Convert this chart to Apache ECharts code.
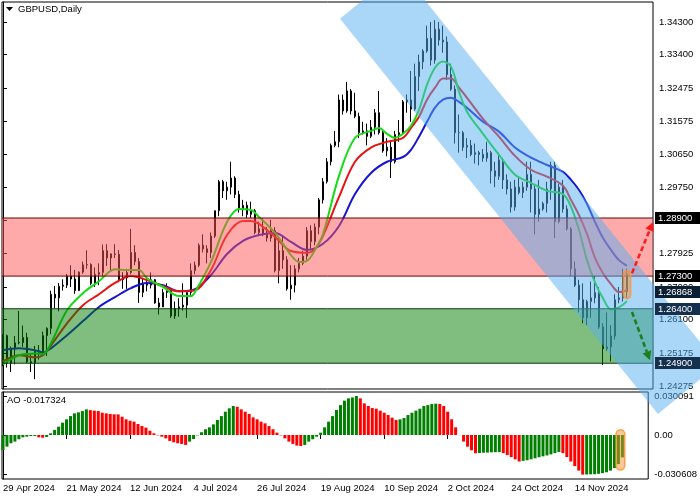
<!DOCTYPE html>
<html><head><meta charset="utf-8">
<script src="https://cdn.jsdelivr.net/npm/echarts@6/dist/echarts.min.js"></script>
<style>html,body{margin:0;padding:0;background:#fff}#c{width:700px;height:500px}</style>
</head><body><div id="c"></div>
<script>
// ---------- data ----------
const xTickIndex = [0,16,32,48,64,80,96,112,128,144];
const xTickLabels = ['29 Apr 2024','21 May 2024','12 Jun 2024','4 Jul 2024','26 Jul 2024','19 Aug 2024','10 Sep 2024','2 Oct 2024','24 Oct 2024','14 Nov 2024'];
const priceTicks = [1.343,1.334,1.32475,1.31575,1.3065,1.2975,1.28825,1.27925,1.27,1.261,1.25175,1.24275];
const aoTicks = [0.030091,0,-0.030608];

const opens = [1.2494,1.2566,1.2490,1.2530,1.2546,1.2547,1.2561,1.2494,1.2491,1.2523,
1.2524,1.2566,1.2586,1.2680,1.2670,1.2702,1.2705,1.2730,1.2722,1.2690,
1.2741,1.2761,1.2762,1.2710,1.2735,1.2740,1.2800,1.2780,1.2791,1.2790,
1.2720,1.2725,1.2740,1.2795,1.2770,1.2685,1.2710,1.2705,1.2720,1.2656,
1.2645,1.2685,1.2690,1.2620,1.2640,1.2645,1.2650,1.2685,1.2745,1.2760,
1.2815,1.2805,1.2795,1.2840,1.2910,1.2990,1.2965,1.2975,1.3000,1.2955,
1.2915,1.2925,1.2900,1.2910,1.2850,1.2860,1.2845,1.2835,1.2855,1.2745,
1.2800,1.2775,1.2695,1.2705,1.2750,1.2765,1.2785,1.2855,1.2825,1.2865,
1.2940,1.2990,1.3045,1.3090,1.3100,1.3215,1.3185,1.3240,1.3185,1.3170,
1.3125,1.3130,1.3115,1.3140,1.3180,1.3125,1.3075,1.3085,1.3045,1.3120,
1.3125,1.3210,1.3215,1.3190,1.3280,1.3320,1.3350,1.3385,1.3325,1.3410,
1.3380,1.3375,1.3285,1.3245,1.3125,1.3125,1.3085,1.3090,1.3065,1.3070,
1.3065,1.3055,1.3070,1.3020,1.3005,1.3050,1.2995,1.2970,1.2920,1.2975,
1.2960,1.2975,1.3010,1.2970,1.2900,1.2915,1.2930,1.2970,1.3035,1.2880,
1.2975,1.2915,1.2860,1.2750,1.2705,1.2665,1.2615,1.2660,1.2670,1.2685,
1.2590,1.2530,1.2535,1.2565,1.2665,1.2670,1.2735];
const highs = [1.2570,1.2569,1.2536,1.2565,1.2634,1.2594,1.2574,1.2518,1.2538,1.2540,
1.2577,1.2589,1.2690,1.2703,1.2711,1.2721,1.2736,1.2760,1.2747,1.2743,
1.2770,1.2801,1.2765,1.2754,1.2765,1.2817,1.2818,1.2793,1.2818,1.2802,
1.2741,1.2750,1.2860,1.2815,1.2780,1.2722,1.2728,1.2740,1.2722,1.2670,
1.2695,1.2710,1.2695,1.2660,1.2669,1.2710,1.2690,1.2765,1.2770,1.2820,
1.2845,1.2815,1.2850,1.2910,1.2995,1.2995,1.2990,1.3045,1.3005,1.2965,
1.2940,1.2935,1.2935,1.2915,1.2880,1.2890,1.2865,1.2885,1.2865,1.2840,
1.2840,1.2785,1.2760,1.2760,1.2780,1.2800,1.2865,1.2870,1.2875,1.2945,
1.3000,1.3055,1.3095,1.3130,1.3230,1.3230,1.3265,1.3245,1.3235,1.3180,
1.3155,1.3150,1.3160,1.3190,1.3240,1.3130,1.3110,1.3100,1.3130,1.3160,
1.3215,1.3230,1.3295,1.3315,1.3340,1.3355,1.3420,1.3430,1.3435,1.3430,
1.3420,1.3390,1.3315,1.3255,1.3175,1.3130,1.3110,1.3105,1.3095,1.3075,
1.3080,1.3100,1.3075,1.3045,1.3070,1.3055,1.3010,1.2990,1.2995,1.3005,
1.2990,1.3045,1.3045,1.2980,1.2995,1.2935,1.2990,1.3045,1.3045,1.2985,
1.2995,1.2925,1.2865,1.2770,1.2720,1.2710,1.2665,1.2715,1.2730,1.2700,
1.2600,1.2630,1.2595,1.2680,1.2700,1.2750,1.2750];
const lows = [1.2482,1.2478,1.2466,1.2487,1.2542,1.2535,1.2490,1.2466,1.2446,1.2500,
1.2512,1.2510,1.2570,1.2642,1.2633,1.2690,1.2697,1.2700,1.2681,1.2689,
1.2736,1.2750,1.2705,1.2700,1.2705,1.2730,1.2758,1.2746,1.2780,1.2713,
1.2695,1.2695,1.2735,1.2760,1.2656,1.2672,1.2688,1.2696,1.2654,1.2624,
1.2645,1.2670,1.2615,1.2612,1.2618,1.2635,1.2615,1.2675,1.2735,1.2755,
1.2795,1.2765,1.2780,1.2835,1.2895,1.2945,1.2940,1.2955,1.2945,1.2905,
1.2895,1.2890,1.2890,1.2845,1.2840,1.2840,1.2825,1.2825,1.2740,1.2710,
1.2750,1.2690,1.2665,1.2685,1.2740,1.2760,1.2775,1.2805,1.2815,1.2845,
1.2930,1.2985,1.3035,1.3085,1.3085,1.3175,1.3180,1.3175,1.3165,1.3110,
1.3120,1.3090,1.3110,1.3120,1.3120,1.3070,1.3060,1.3000,1.3040,1.3100,
1.3120,1.3180,1.3155,1.3185,1.3240,1.3300,1.3345,1.3310,1.3315,1.3365,
1.3345,1.3270,1.3240,1.3095,1.3070,1.3075,1.3055,1.3060,1.3040,1.3035,
1.3045,1.3045,1.2985,1.2975,1.2995,1.2970,1.2955,1.2905,1.2910,1.2955,
1.2945,1.2965,1.2905,1.2845,1.2880,1.2910,1.2905,1.2940,1.2835,1.2875,
1.2905,1.2855,1.2730,1.2700,1.2630,1.2600,1.2595,1.2615,1.2655,1.2585,
1.2485,1.2525,1.2495,1.2555,1.2655,1.2660,1.2670];
const closes = [1.2566,1.2490,1.2530,1.2546,1.2547,1.2561,1.2494,1.2491,1.2523,1.2524,
1.2566,1.2586,1.2680,1.2670,1.2702,1.2705,1.2730,1.2722,1.2690,1.2741,
1.2761,1.2762,1.2710,1.2735,1.2740,1.2800,1.2780,1.2791,1.2790,1.2720,
1.2725,1.2740,1.2795,1.2770,1.2685,1.2710,1.2705,1.2720,1.2656,1.2645,
1.2685,1.2690,1.2620,1.2640,1.2645,1.2650,1.2685,1.2745,1.2760,1.2815,
1.2805,1.2795,1.2840,1.2910,1.2990,1.2965,1.2975,1.3000,1.2955,1.2915,
1.2925,1.2900,1.2910,1.2850,1.2860,1.2845,1.2835,1.2855,1.2745,1.2800,
1.2775,1.2695,1.2705,1.2750,1.2765,1.2785,1.2855,1.2825,1.2865,1.2940,
1.2990,1.3045,1.3090,1.3100,1.3215,1.3185,1.3240,1.3185,1.3170,1.3125,
1.3130,1.3115,1.3140,1.3180,1.3125,1.3075,1.3085,1.3045,1.3120,1.3125,
1.3210,1.3215,1.3190,1.3280,1.3320,1.3350,1.3385,1.3325,1.3410,1.3380,
1.3375,1.3285,1.3245,1.3125,1.3125,1.3085,1.3090,1.3065,1.3070,1.3065,
1.3055,1.3070,1.3020,1.3005,1.3050,1.2995,1.2970,1.2920,1.2975,1.2960,
1.2975,1.3010,1.2970,1.2900,1.2915,1.2930,1.2970,1.3035,1.2880,1.2975,
1.2915,1.2860,1.2750,1.2705,1.2665,1.2615,1.2660,1.2670,1.2685,1.2590,
1.2530,1.2535,1.2565,1.2665,1.2670,1.2735,1.2687];

const maFast = [[0,1.2487],[4,1.2512],[8,1.2517],[10,1.2515],[12,1.2545],[16,1.2636],[20,1.2683],[24,1.2716],[28,1.2749],[30,1.2747],[32,1.2747],[34,1.2747],[36,1.2724],[40,1.2700],[44,1.2675],[47,1.2675],[48,1.2686],[52,1.2769],[56,1.2879],[59,1.2915],[62,1.2912],[64,1.2893],[68,1.2849],[72,1.2788],[74,1.2769],[76,1.2772],[78,1.2802],[80,1.2846],[84,1.3006],[88,1.3111],[92,1.3130],[94,1.3138],[96,1.3122],[98,1.3111],[100,1.3122],[102,1.3144],[104,1.3188],[106,1.3257],[108,1.3304],[110,1.3321],[112,1.3307],[114,1.3238],[116,1.3183],[120,1.3122],[124,1.3064],[128,1.3009],[132,1.2987],[136,1.2965],[140,1.2956],[142,1.2921],[144,1.2857],[146,1.2774],[148,1.2713],[150,1.2669],[152,1.2639],[154,1.2644],[156,1.2661]];
const maMid = [[0,1.2495],[4,1.2512],[8,1.2506],[10,1.2512],[12,1.2539],[16,1.2600],[20,1.2650],[24,1.2680],[28,1.2711],[32,1.2730],[36,1.2719],[40,1.2702],[44,1.2688],[48,1.2691],[52,1.2747],[56,1.2843],[60,1.2882],[62,1.2882],[64,1.2874],[68,1.2838],[72,1.2799],[76,1.2794],[78,1.2805],[80,1.2841],[84,1.2948],[88,1.3045],[92,1.3084],[96,1.3100],[100,1.3111],[102,1.3138],[104,1.3169],[106,1.3216],[108,1.3249],[110,1.3274],[112,1.3274],[114,1.3249],[116,1.3221],[120,1.3163],[124,1.3114],[128,1.3061],[132,1.3023],[136,1.3004],[140,1.2979],[142,1.2940],[144,1.2898],[146,1.2846],[148,1.2780],[150,1.2738],[152,1.2708],[154,1.2686],[156,1.2691]];
const maSlow = [[0,1.2526],[4,1.2531],[8,1.2526],[10,1.2520],[12,1.2531],[16,1.2567],[20,1.2606],[24,1.2645],[28,1.2672],[32,1.2697],[36,1.2711],[40,1.2705],[44,1.2688],[48,1.2694],[52,1.2733],[56,1.2791],[60,1.2827],[64,1.2843],[68,1.2849],[72,1.2824],[76,1.2802],[80,1.2819],[84,1.2868],[88,1.2956],[92,1.3014],[96,1.3045],[100,1.3058],[102,1.3078],[104,1.3114],[106,1.3155],[108,1.3194],[110,1.3216],[112,1.3221],[114,1.3210],[116,1.3194],[120,1.3155],[124,1.3128],[128,1.3084],[132,1.3056],[136,1.3036],[140,1.3017],[142,1.2995],[144,1.2967],[146,1.2929],[148,1.2879],[150,1.2835],[152,1.2802],[154,1.2774],[156,1.2758]];

const aoValues = [-0.0116,-0.0090,-0.0064,-0.0051,-0.0033,-0.0018,-0.0013,-0.0008,-0.0007,-0.0018,
-0.0021,-0.0015,0.0013,0.0039,0.0064,0.0095,0.0121,0.0146,0.0167,0.0175,
0.0185,0.0198,0.0192,0.0188,0.0185,0.0172,0.0167,0.0162,0.0160,0.0159,
0.0141,0.0121,0.0110,0.0103,0.0085,0.0069,0.0057,0.0033,0.0013,-0.0003,
-0.0013,-0.0026,-0.0046,-0.0057,-0.0064,-0.0069,-0.0077,-0.0051,-0.0031,-0.0003,
0.0021,0.0044,0.0059,0.0082,0.0116,0.0146,0.0180,0.0206,0.0224,0.0218,
0.0198,0.0180,0.0162,0.0136,0.0121,0.0103,0.0090,0.0069,0.0044,0.0018,
-0.0003,-0.0026,-0.0051,-0.0069,-0.0082,-0.0085,-0.0077,-0.0051,-0.0033,-0.0013,
0.0018,0.0059,0.0103,0.0146,0.0193,0.0231,0.0265,0.0283,0.0290,0.030091,
0.0283,0.0244,0.0224,0.0208,0.0203,0.0188,0.0172,0.0154,0.0134,0.0116,
0.0121,0.0131,0.0154,0.0172,0.0188,0.0203,0.0224,0.0231,0.0239,0.0242,
0.0239,0.0224,0.0180,0.0121,0.0059,-0.0001,-0.0051,-0.0090,-0.0118,-0.0141,
-0.0139,-0.0137,-0.0136,-0.0134,-0.0133,-0.0132,-0.0140,-0.0155,-0.0170,-0.0188,
-0.0205,-0.0200,-0.0195,-0.0188,-0.0180,-0.0172,-0.0165,-0.0158,-0.0150,-0.0140,
-0.0131,-0.0140,-0.0170,-0.0205,-0.0240,-0.0275,-0.030608,-0.0305,-0.0304,-0.0303,
-0.0300,-0.0295,-0.0288,-0.0275,-0.0255,-0.0225,-0.017324];

const zones = [[1.289,1.273],[1.264,1.249]];
const channel = [[84.25,1.34386],[99.25,1.3575],[178.75,1.2487],[163.75,1.2350]];
const arrows = [[157.25,1.2738,162.5,1.2879],[157.25,1.2631,161.75,1.2498]];
const priceBoxes = [1.289,1.273,1.26868,1.264,1.249];
const mainHighlight = [[156,1.2745,1.2668]];
const aoHighlight = [[155.5,0.0040,-0.0270]];

// ---------- styles ----------
const FONT = 'Liberation Sans';
const FS = 9.5;
const zoneFill = ['rgba(255,85,85,0.5)','rgba(0,125,0,0.5)'];
const zoneLine = ['#6a0000','#0b3b0b'];
const boxColors = ['#000000','#000000','#0b1f33','#15304d','#15304d'];
const arrowColors = ['#ff1a1a','#1b7d1b'];

const candleData = opens.map((o,i)=>[i,o,closes[i],lows[i],highs[i]]);
const aoData = aoValues.map((v,i)=>[i,v]);

function renderZone(params, api){
  const cs = params.coordSys;
  const y1 = api.coord([0, api.value(1)])[1];
  const y2 = api.coord([0, api.value(2)])[1];
  const k = params.dataIndex;
  return {type:'group', children:[
    {type:'rect', shape:{x:cs.x, y:y1, width:cs.width, height:y2-y1}, style:{fill:zoneFill[k]}},
    {type:'line', shape:{x1:cs.x, y1:y1, x2:cs.x+cs.width, y2:y1}, style:{stroke:zoneLine[k], lineWidth:1}},
    {type:'line', shape:{x1:cs.x, y1:y2, x2:cs.x+cs.width, y2:y2}, style:{stroke:zoneLine[k], lineWidth:1}}
  ]};
}
function renderChannel(params, api){
  return {type:'polygon', shape:{points:channel.map(p=>api.coord(p))}, style:{fill:'rgba(85,173,241,0.5)'}};
}
function renderArrow(params, api){
  const p1 = api.coord([api.value(0), api.value(1)]);
  const p2 = api.coord([api.value(2), api.value(3)]);
  const c = arrowColors[params.dataIndex];
  const dx=p2[0]-p1[0], dy=p2[1]-p1[1], len=Math.hypot(dx,dy), ux=dx/len, uy=dy/len;
  const hl=9, hw=4.5;
  const b=[p2[0]-ux*hl, p2[1]-uy*hl];
  return {type:'group', children:[
    {type:'line', shape:{x1:p1[0],y1:p1[1],x2:b[0],y2:b[1]}, style:{stroke:c, lineWidth:2.5, lineDash:[5,3]}},
    {type:'polygon', shape:{points:[p2,[b[0]-uy*hw,b[1]+ux*hw],[b[0]+uy*hw,b[1]-ux*hw]]}, style:{fill:c}}
  ]};
}
function makeHighlight(halfW){
  return function(params, api){
    const a = api.coord([api.value(0)-halfW, api.value(1)]);
    const b = api.coord([api.value(0)+halfW, api.value(2)]);
    const w=b[0]-a[0], h=b[1]-a[1];
    return {type:'rect', shape:{x:a[0], y:a[1], width:w, height:h, r:w/2},
      style:{fill:'rgba(245,145,50,0.5)', stroke:'rgba(245,150,60,0.85)', lineWidth:1.5}};
  };
}
function renderBox(params, api){
  const cs = params.coordSys;
  const y = api.coord([0, api.value(1)])[1];
  const x = cs.x + cs.width + 2;
  return {type:'group', children:[
    {type:'rect', shape:{x:x, y:Math.round(y)-6, width:700-x, height:12}, style:{fill:boxColors[params.dataIndex]}},
    {type:'text', style:{x:x+3, y:Math.round(y), text:api.value(1).toFixed(5), fill:'#fff', font:FS+'px "'+FONT+'"', verticalAlign:'middle', align:'left'}}
  ]};
}

const lblStyle = {fontFamily:FONT, fontSize:FS, color:'#000'};
const option = {
  animation:false,
  backgroundColor:'#fff',
  title:[
    {text:'GBPUSD,Daily', left:18, top:4, padding:0, textStyle:{fontFamily:FONT, fontSize:FS, fontWeight:'normal', color:'#000'}},
    {text:'AO -0.017324', left:7, top:395, padding:0, textStyle:{fontFamily:FONT, fontSize:FS, fontWeight:'normal', color:'#000'}}
  ],
  graphic:[{type:'polygon', shape:{points:[[6,7],[13,7],[9.5,11]]}, style:{fill:'#000'}}],
  grid:[
    {left:2, top:2, width:651, height:387, show:true, borderColor:'#000', borderWidth:1, backgroundColor:'#fff'},
    {left:2, top:392, width:651, height:87, show:true, borderColor:'#000', borderWidth:1, backgroundColor:'#fff'}
  ],
  xAxis:[
    {type:'value', gridIndex:0, min:-0.25, max:162.5, show:false},
    {type:'value', gridIndex:1, min:-0.25, max:162.5, splitLine:{show:false}, axisLine:{show:false},
     axisTick:{show:true, customValues:xTickIndex, length:4, lineStyle:{color:'#000'}},
     axisLabel:{customValues:xTickIndex, formatter:v=>xTickLabels[xTickIndex.indexOf(v)], align:'left', margin:4, ...lblStyle}}
  ],
  yAxis:[
    {type:'value', gridIndex:0, position:'right', min:1.2419, max:1.3485, splitLine:{show:false},
     axisLine:{show:true, lineStyle:{color:'#000'}},
     axisTick:{show:true, customValues:priceTicks, length:4, lineStyle:{color:'#000'}},
     axisLabel:{customValues:priceTicks, formatter:v=>v.toFixed(5), margin:6, ...lblStyle}},
    {type:'value', gridIndex:1, position:'right', min:-0.034, max:0.0332, splitLine:{show:false},
     axisLine:{show:true, lineStyle:{color:'#000'}},
     axisTick:{show:true, customValues:aoTicks, length:4, lineStyle:{color:'#000'}},
     axisLabel:{customValues:aoTicks, formatter:v=>v===0?'0.00':v.toFixed(6), margin:6, ...lblStyle}}
  ],
  series:[
    {type:'candlestick', xAxisIndex:0, yAxisIndex:0, data:candleData, encode:{x:0,y:[1,2,3,4]}, barWidth:2, z:2,
     itemStyle:{color:'#fff', color0:'#000', borderColor:'#000', borderColor0:'#000', borderWidth:1}},
    {type:'line', xAxisIndex:0, yAxisIndex:0, data:maSlow, showSymbol:false, smooth:0.35, z:3, lineStyle:{color:'#1414d2', width:2}},
    {type:'line', xAxisIndex:0, yAxisIndex:0, data:maMid, showSymbol:false, smooth:0.35, z:3, lineStyle:{color:'#e81212', width:2}},
    {type:'line', xAxisIndex:0, yAxisIndex:0, data:maFast, showSymbol:false, smooth:0.35, z:3, lineStyle:{color:'#14dc14', width:2}},
    {type:'custom', xAxisIndex:0, yAxisIndex:0, z:5, data:zones.map(z=>[0,z[0],z[1]]), encode:{x:0,y:[1,2]}, renderItem:renderZone},
    {type:'custom', xAxisIndex:0, yAxisIndex:0, z:6, clip:false, data:[channel[0]], encode:{x:0,y:1}, renderItem:renderChannel},
    {type:'custom', xAxisIndex:0, yAxisIndex:0, z:8, clip:false, data:arrows, encode:{x:[0,2],y:[1,3]}, renderItem:renderArrow},
    {type:'custom', xAxisIndex:0, yAxisIndex:0, z:9, clip:false, data:mainHighlight, encode:{x:0,y:[1,2]}, renderItem:makeHighlight(0.9)},
    {type:'custom', xAxisIndex:0, yAxisIndex:0, z:10, clip:false, data:priceBoxes.map(v=>[0,v]), encode:{x:0,y:1}, renderItem:renderBox},
    {type:'bar', xAxisIndex:1, yAxisIndex:1, data:aoData, barWidth:3, z:2,
     itemStyle:{color:p=>(p.dataIndex===0 || aoValues[p.dataIndex]>aoValues[p.dataIndex-1]) ? '#008000' : '#ff0000'}},
    {type:'custom', xAxisIndex:1, yAxisIndex:1, z:9, clip:false, data:aoHighlight, encode:{x:0,y:[1,2]}, renderItem:makeHighlight(1.1)}
  ]
};
const chart = echarts.init(document.getElementById('c'));
chart.setOption(option);
</script></body></html>
